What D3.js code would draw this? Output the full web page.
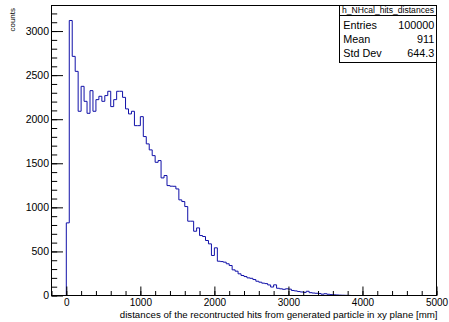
<!DOCTYPE html>
<html><head><meta charset="utf-8">
<script src="https://cdn.jsdelivr.net/npm/d3@7"></script>
<style>
body{margin:0;background:#fff}
svg{display:block}
text{font-family:"Liberation Sans",Arial,Helvetica,sans-serif;fill:#000}
</style>
</head><body>
<svg id="c" width="449" height="322"></svg>
<script>
// ---- data ----
const histName = "h_NHcal_hits_distances";
const xTitle = "distances of the recontructed hits from generated particle in xy plane [mm]";
const yTitle = "counts";
const xAxisRange = [-200, 5000];   // histogram axis (mm)
const nBins = 130;                  // 40 mm bins
const firstFilledBin = 5;           // bin starting at 0 mm
const counts = [
  824, 3120, 2713, 2543, 2090, 2373, 2203, 2067, 2324, 2090,
  2222, 2260, 2203, 2268, 2317, 2143, 2222, 2317, 2317, 2248,
  2117, 2060, 2090, 1927, 1927, 2029, 1803, 1720, 1652, 1587,
  1511, 1531, 1334, 1361, 1247, 1240, 1239, 1209, 1085, 1066,
  1009, 843, 843, 729, 767, 680, 669, 624, 586, 454,
  541, 389, 385, 378, 360, 340, 291, 276, 246, 227,
  215, 200, 195, 181, 162, 151, 140, 135, 120, 96,
  121, 82, 76, 70, 76, 72, 57, 52, 45, 40,
  35, 48, 32, 28, 25, 22, 15, 20, 14, 10,
  8, 6, 4, 3, 2, 1
];
const yMax = 3290;
const xTickValues = [0, 1000, 2000, 3000, 4000, 5000];
const yTickValues = [0, 500, 1000, 1500, 2000, 2500, 3000];
const statsLabels = ["Entries", "Mean", "Std Dev"];
const statsValues = ["100000", "911", "644.3"];

// ---- layout ----
const svg = d3.select("#c");
const L = 51.5, R = 436.5, T = 5.5, B = 295.5;
const x = d3.scaleLinear().domain(xAxisRange).range([L, R]);
const y = d3.scaleLinear().domain([0, yMax]).range([B, T]);
const binW = (xAxisRange[1] - xAxisRange[0]) / nBins;
const fmt = d3.format("d");

// full bin contents (zeros outside the filled range)
const contents = d3.range(nBins).map(i => {
  const j = i - firstFilledBin;
  return (j >= 0 && j < counts.length) ? counts[j] : 0;
});

// step path
let pts = [];
contents.forEach((c, i) => {
  const lo = xAxisRange[0] + i * binW, hi = lo + binW;
  pts.push([x(lo), y(c)], [x(hi), y(c)]);
});
pts = [[x(xAxisRange[0]), y(0)], ...pts, [x(xAxisRange[1]), y(0)]];
svg.append("path")
  .attr("d", d3.line()(pts))
  .attr("fill", "none")
  .attr("stroke", "#1010a8")
  .attr("stroke-width", 1);

// frame
svg.append("rect").attr("x", L).attr("y", T).attr("width", R - L).attr("height", B - T)
  .attr("fill", "none").attr("stroke", "#000").attr("stroke-width", 1);

// y axis
const yMinor = d3.range(0, yMax, 100);
const gyMinor = svg.append("g").attr("transform", `translate(${L},0)`)
  .call(d3.axisLeft(y).tickValues(yMinor).tickSize(-5.7).tickSizeOuter(0).tickFormat(""));
const gy = svg.append("g").attr("transform", `translate(${L},0)`)
  .call(d3.axisLeft(y).tickValues(yTickValues).tickFormat(fmt).tickSize(-11.5).tickSizeOuter(0).tickPadding(2.5));
gy.selectAll("text").style("font-size", "10.5px").style("font-family", '"Liberation Sans",Arial,sans-serif');

// x axis
const xMinor = d3.range(xAxisRange[0], xAxisRange[1] + 1, 200);
const gxMinor = svg.append("g").attr("transform", `translate(0,${B})`)
  .call(d3.axisBottom(x).tickValues(xMinor).tickSize(-4.5).tickSizeOuter(0).tickFormat(""));
const gx = svg.append("g").attr("transform", `translate(0,${B})`)
  .call(d3.axisBottom(x).tickValues(xTickValues).tickFormat(fmt).tickSize(-9).tickSizeOuter(0).tickPadding(3.5));
gx.selectAll("text").style("font-size", "10px").style("font-family", '"Liberation Sans",Arial,sans-serif');

[gy, gyMinor, gx, gxMinor].forEach(g => {
  g.select(".domain").remove();
  g.selectAll("line").attr("stroke", "#000");
});

// fit text helper
function fit(sel, width, base) {
  sel.style("font-size", base + "px");
  const w = sel.node().getComputedTextLength();
  sel.style("font-size", (base * width / w) + "px");
}

// x title
const xt = svg.append("text").attr("x", 437.5).attr("y", 317.5)
  .attr("text-anchor", "end").text(xTitle);
fit(xt, 318, 9);

// y title
const yt = svg.append("text").attr("transform", "translate(15,8) rotate(-90)")
  .attr("text-anchor", "end").text(yTitle);
fit(yt, 23.5, 8.5);

// stats box
const bx0 = 339.5, bx1 = R, by0 = T, by1 = 62.5;
svg.append("rect").attr("x", bx0).attr("y", by0).attr("width", bx1 - bx0).attr("height", by1 - by0)
  .attr("fill", "#fff").attr("stroke", "#000").attr("stroke-width", 1);
svg.append("line").attr("x1", bx0).attr("x2", bx1).attr("y1", 15.5).attr("y2", 15.5)
  .attr("stroke", "#000").attr("stroke-width", 1);
const st = svg.append("text").attr("x", (bx0 + bx1) / 2).attr("y", 13.3)
  .attr("text-anchor", "middle").text(histName);
fit(st, 92, 8.6);
const rowY = [29.2, 43.2, 56.7];
statsLabels.forEach((lab, i) => {
  svg.append("text").attr("x", 343.3).attr("y", rowY[i]).style("font-size", "10.8px").text(lab);
  svg.append("text").attr("x", 434.3).attr("y", rowY[i]).attr("text-anchor", "end")
    .style("font-size", "10.8px").text(statsValues[i]);
});
</script>
</body></html>
